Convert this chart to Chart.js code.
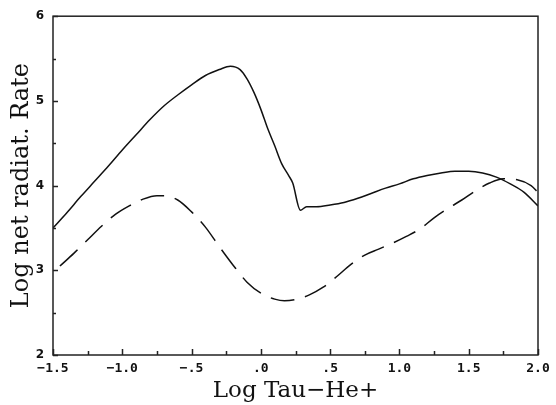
<!DOCTYPE html>
<html>
<head>
<meta charset="utf-8">
<script src="https://cdn.jsdelivr.net/npm/chart.js@4.4.1/dist/chart.umd.min.js"></script>
<style>
  html, body { margin: 0; padding: 0; background: #fff; }
  #wrap { width: 556px; height: 405px; }
</style>
</head>
<body>
<div id="wrap"><canvas id="rateChart" width="556" height="405"></canvas></div>
<script>
// solid curve
const solidX = [-1.5, -1.4, -1.3, -1.2, -1.1, -1.0, -0.9, -0.8, -0.7, -0.6, -0.5, -0.4, -0.3, -0.22, -0.15, -0.1, -0.05, 0.0, 0.05, 0.1, 0.15, 0.2, 0.23, 0.285, 0.33, 0.4, 0.5, 0.6, 0.7, 0.8, 0.9, 1.0, 1.1, 1.2, 1.3, 1.4, 1.5, 1.6, 1.7, 1.8, 1.9, 2.0];
const solidY = [3.50, 3.68, 3.87, 4.05, 4.23, 4.42, 4.60, 4.78, 4.94, 5.07, 5.19, 5.30, 5.37, 5.41, 5.37, 5.26, 5.10, 4.90, 4.67, 4.47, 4.26, 4.12, 4.03, 3.71, 3.75, 3.75, 3.77, 3.80, 3.85, 3.91, 3.97, 4.02, 4.08, 4.12, 4.15, 4.17, 4.17, 4.15, 4.10, 4.02, 3.92, 3.76];

// dashed curve
const dashX = [-1.45, -1.35, -1.25, -1.15, -1.05, -0.95, -0.85, -0.75, -0.7, -0.6, -0.5, -0.4, -0.3, -0.2, -0.1, 0.0, 0.1, 0.17, 0.25, 0.35, 0.45, 0.55, 0.65, 0.75, 0.85, 0.95, 1.05, 1.15, 1.25, 1.35, 1.45, 1.55, 1.65, 1.75, 1.85, 1.95, 2.0];
const dashY = [3.05, 3.20, 3.36, 3.52, 3.66, 3.76, 3.84, 3.88, 3.88, 3.83, 3.69, 3.51, 3.28, 3.06, 2.86, 2.73, 2.66, 2.64, 2.655, 2.71, 2.80, 2.93, 3.07, 3.18, 3.25, 3.32, 3.40, 3.49, 3.62, 3.73, 3.83, 3.94, 4.03, 4.08, 4.07, 4.00, 3.92];

// axis ticks
const xTickLabels = ['\u22121.5', '\u22121.0', '\u2212.5', '.0', '.5', '1.0', '1.5', '2.0'];
const xMinorTicks = [-1.5, -1.25, -1.0, -0.75, -0.5, -0.25, 0, 0.25, 0.5, 0.75, 1.0, 1.25, 1.5, 1.75, 2.0];
const yMinorTicks = [2, 2.5, 3, 3.5, 4, 4.5, 5, 5.5, 6];

const pts = (xs, ys) => xs.map((x, i) => ({ x: x, y: ys[i] }));

// frame box and inward tick marks
const framePlugin = {
    id: 'frame',
    afterDatasetsDraw(chart) {
        const { ctx, chartArea: a, scales } = chart;
        ctx.save();
        ctx.strokeStyle = '#222';
        ctx.lineWidth = 1.5;
        ctx.strokeRect(a.left, a.top, a.right - a.left, a.bottom - a.top);
        ctx.beginPath();
        xMinorTicks.forEach((v, i) => {
            const px = Math.round(scales.x.getPixelForValue(v)) + 0.5;
            const len = i % 2 === 0 ? 6 : 4;
            ctx.moveTo(px, a.bottom);
            ctx.lineTo(px, a.bottom - len);
        });
        yMinorTicks.forEach((v, i) => {
            const py = Math.round(scales.y.getPixelForValue(v)) + 0.5;
            const len = i % 2 === 0 ? 5 : 3;
            ctx.moveTo(a.left, py);
            ctx.lineTo(a.left + len, py);
        });
        ctx.stroke();
        ctx.restore();
    }
};

const ctx = document.getElementById('rateChart').getContext('2d');
const rateChart = new Chart(ctx, {
    type: 'scatter',
    data: {
        datasets: [
            {
                label: 'solid',
                data: pts(solidX, solidY),
                showLine: true,
                borderColor: '#111',
                borderWidth: 1.5,
                pointRadius: 0,
                cubicInterpolationMode: 'monotone'
            },
            {
                label: 'dashed',
                data: pts(dashX, dashY),
                showLine: true,
                borderColor: '#111',
                borderWidth: 1.5,
                borderDash: [24, 11],
                pointRadius: 0,
                cubicInterpolationMode: 'monotone'
            }
        ]
    },
    options: {
        responsive: false,
        animation: false,
        layout: { padding: { top: 15, right: 18, left: 0, bottom: 0 } },
        plugins: {
            legend: { display: false },
            tooltip: { enabled: false }
        },
        scales: {
            x: {
                type: 'linear',
                min: -1.5,
                max: 2.0,
                afterFit(scale) { scale.height = 50; },
                grid: { display: false, drawTicks: false },
                border: { display: false },
                ticks: {
                    stepSize: 0.5,
                    padding: 6,
                    maxRotation: 0,
                    autoSkip: false,
                    color: '#111',
                    font: { family: 'DejaVu Sans Mono', size: 13, weight: 'bold' },
                    callback: (value, index) => xTickLabels[index]
                },
                title: {
                    display: true,
                    text: 'Log Tau\u2212He+',
                    color: '#111',
                    font: { family: 'DejaVu Serif', size: 23 },
                    padding: { top: 0, bottom: 0 }
                }
            },
            y: {
                type: 'linear',
                min: 2,
                max: 6,
                afterFit(scale) { scale.width = 53; },
                grid: { display: false, drawTicks: false },
                border: { display: false },
                ticks: {
                    stepSize: 1,
                    padding: 9,
                    color: '#111',
                    font: { family: 'DejaVu Sans', size: 12, weight: 'bold' }
                },
                title: {
                    display: true,
                    text: 'Log net radiat. Rate',
                    color: '#111',
                    font: { family: 'DejaVu Serif', size: 24 },
                    padding: { top: 7, bottom: 0 }
                }
            }
        }
    },
    plugins: [framePlugin]
});
</script>
</body>
</html>
